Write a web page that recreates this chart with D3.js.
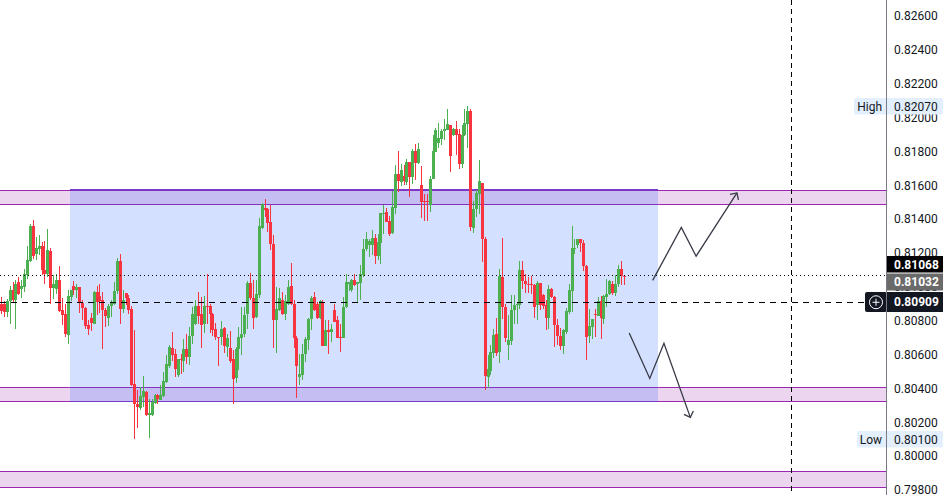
<!DOCTYPE html>
<html>
<head>
<meta charset="utf-8">
<script src="https://cdn.jsdelivr.net/npm/d3@7"></script>
<style>
  html, body { margin: 0; padding: 0; background: #fff; overflow: hidden; }
  text { font-family: Roboto, "Liberation Sans", sans-serif; }
</style>
</head>
<body>
<svg id="chart" width="948" height="495"></svg>
<script>
const opens = [
  .80897,.80897,.80852,.80917,.80980,.80921,.81027,.80990,.81000,.81069,.81153,.81358,.81193,.81226,.81242,.81102,.81074,.81210,.80994,.80990,.81039,.80866,.80838,.80718,.80940,.81007,.80980,.80998,.80903,.80874,.80775,.80814,.80783,.80968,.80944,.80921,.80866,.80814,.80885,.80901,.80974,.81151,.80868,.80962,.80937,.80868,.80424,.80310,.80286,.80350,.80377,.80241,.80245,.80314,.80359,.80334,.80354,.80436,.80535,.80637,.80602,.80478,.80574,.80564,.80631,.80586,.80708,.80783,.80885,.80838,.80779,.80885,.80885,.80838,.80749,.80704,.80702,.80757,.80645,.80637,.80572,.80460,.80631,
  .80698,.80720,.80838,.81021,.80937,.80820,.80950,.81348,.81463,.81459,.81382,.81256,.80803,.80866,.80921,.80842,.80897,.81004,.80897,.80700,.80468,.80478,.80602,.80684,.80808,.80942,.80897,.80814,.80913,.80649,.80744,.80732,.80862,.80803,.80702,.80696,.80879,.81019,.80980,.81039,.81017,.81021,.81069,.81222,.81246,.81246,.81291,.81181,.81260,.81433,.81445,.81388,
  .81316,.81466,.81665,.81620,.81653,.81620,.81736,.81649,.81801,.81730,.81600,.81506,.81506,.81486,.81636,.81797,.81852,.81872,.81919,.81925,.81959,.81896,.81931,.81902,.81724,.81896,.81963,.82037,.81348,.81458,.81549,.81616,.81285,.80467,.80501,.80609,.80719,.80615,.81060,.80883,
  .80659,.80680,.80862,.80891,.80895,.81098,.81035,.81019,.81015,.81013,.80891,.81021,.80954,.80891,.80816,.80986,.80942,.80777,.80710,.80649,.80734,.80852,.80974,.81226,.81246,.81281,.81261,.81126,.80708,.80763,.80838,.80826,.80919,.80812,.80938,.80958,.81015,.80966,.81015,.81104,.81066
];
const highs = [
  .80940,.80917,.80931,.81004,.81029,.81039,.81059,.81039,.81108,.81240,.81374,.81394,.81295,.81305,.81266,.81270,.81344,.81232,.81069,.81078,.81122,.80937,.80901,.80980,.80980,.81033,.81015,.81000,.80921,.80881,.80803,.80846,.80974,.81007,.81015,.80968,.80874,.80901,.80921,.81027,.81173,.81197,.80980,.80964,.80950,.80889,.80744,.80389,.80409,.80472,.80385,.80340,.80340,.80369,.80369,.80418,.80497,.80596,.80655,.80732,.80635,.80576,.80606,.80690,.80724,.80763,.80881,.80921,.80970,.80941,.80944,.81078,.80901,.80848,.80787,.80704,.80797,.80763,.80724,.80738,.80625,.80645,.80763,
  .80881,.80881,.81033,.81084,.81039,.81043,.81405,.81496,.81518,.81463,.81482,.81305,.81000,.80996,.80972,.80950,.81039,.81143,.80925,.80708,.80606,.80665,.80704,.80818,.80944,.80972,.80911,.80921,.80925,.80807,.80807,.80779,.80897,.80826,.80779,.80941,.81078,.81029,.81049,.81078,.81019,.81128,.81285,.81325,.81285,.81335,.81311,.81315,.81437,.81482,.81468,.81417,
  .81565,.81718,.81801,.81728,.81722,.81758,.81736,.81817,.81846,.81852,.81712,.81551,.81551,.81653,.81896,.81941,.81965,.81935,.81994,.82049,.81959,.81941,.81978,.81935,.81955,.82049,.82067,.82049,.81506,.81574,.81748,.81616,.81295,.80599,.80655,.80753,.80818,.81104,.81291,.80901,
  .80832,.80950,.80950,.80907,.81151,.81151,.81078,.81059,.81064,.81019,.81035,.81023,.80956,.80921,.81013,.80994,.80944,.80808,.80759,.80749,.80877,.81015,.81358,.81285,.81285,.81285,.81275,.81128,.80867,.80812,.80871,.80940,.80944,.80950,.81049,.81043,.81033,.81068,.81128,.81151,.81068
];
const lows = [
  .80842,.80822,.80822,.80779,.80911,.80751,.80950,.80935,.80970,.81049,.81147,.81167,.81157,.81187,.81069,.81019,.81059,.80897,.80931,.80960,.80852,.80773,.80704,.80661,.80917,.80950,.80937,.80846,.80807,.80749,.80714,.80738,.80779,.80832,.80846,.80631,.80763,.80767,.80822,.80891,.80960,.80779,.80846,.80891,.80842,.80415,.80101,.80166,.80271,.80290,.80239,.80105,.80235,.80306,.80310,.80330,.80350,.80432,.80523,.80560,.80468,.80468,.80483,.80497,.80547,.80537,.80661,.80773,.80783,.80639,.80728,.80779,.80728,.80708,.80688,.80533,.80655,.80610,.80586,.80550,.80306,.80432,.80507,
  .80596,.80704,.80749,.80925,.80749,.80818,.80933,.81344,.81413,.81325,.81216,.80637,.80610,.80858,.80832,.80803,.80891,.80891,.80637,.80342,.80418,.80448,.80556,.80625,.80744,.80856,.80812,.80810,.80649,.80649,.80602,.80675,.80791,.80696,.80613,.80696,.80877,.80974,.80968,.81004,.80909,.80921,.81059,.81212,.81177,.81187,.81134,.81157,.81134,.81315,.81384,.81299,
  .81312,.81429,.81561,.81596,.81600,.81600,.81531,.81610,.81630,.81728,.81407,.81389,.81389,.81443,.81636,.81797,.81821,.81837,.81866,.81925,.81679,.81892,.81777,.81695,.81703,.81892,.81821,.81328,.81318,.81413,.81433,.81147,.80389,.80402,.80477,.80580,.80591,.80550,.80812,.80674,
  .80566,.80659,.80783,.80779,.80867,.80986,.80966,.80966,.80960,.80816,.80802,.80862,.80867,.80743,.80749,.80934,.80645,.80659,.80625,.80602,.80724,.80842,.80852,.81193,.81230,.81206,.81092,.80566,.80668,.80694,.80704,.80826,.80690,.80783,.80881,.80950,.80950,.80944,.81000,.81010,.81010
];
const closes = [
  .80856,.80852,.80917,.80980,.80921,.81019,.80956,.81004,.81073,.81157,.81358,.81181,.81232,.81240,.81098,.81074,.81216,.80994,.81015,.81039,.80858,.80836,.80720,.80944,.80980,.80980,.81000,.80905,.80874,.80769,.80749,.80785,.80968,.80911,.80917,.80862,.80826,.80889,.80905,.80974,.81151,.80868,.80925,.80933,.80862,.80418,.80306,.80288,.80353,.80383,.80241,.80255,.80320,.80359,.80336,.80359,.80442,.80543,.80643,.80596,.80513,.80576,.80570,.80631,.80586,.80708,.80842,.80885,.80828,.80773,.80885,.80881,.80838,.80744,.80704,.80698,.80753,.80649,.80696,.80560,.80458,.80631,.80702,
  .80720,.80836,.81021,.80933,.80814,.80960,.81358,.81492,.81453,.81378,.81256,.80803,.80868,.80933,.80838,.80919,.81000,.80897,.80696,.80531,.80483,.80606,.80690,.80812,.80937,.80862,.80814,.80917,.80649,.80744,.80732,.80749,.80795,.80696,.80696,.80881,.81031,.81031,.81043,.81013,.81027,.81073,.81226,.81285,.81271,.81291,.81181,.81264,.81437,.81439,.81384,.81315,
  .81470,.81665,.81624,.81689,.81624,.81736,.81647,.81801,.81730,.81813,.81500,.81500,.81500,.81636,.81801,.81925,.81880,.81919,.81935,.81961,.81773,.81935,.81896,.81724,.81900,.81965,.82037,.81352,.81462,.81557,.81624,.81285,.80473,.80513,.80615,.80714,.80609,.81064,.80881,.80698,
  .80684,.80866,.80891,.80901,.81098,.81035,.81015,.81015,.81011,.80881,.81021,.80891,.80887,.80816,.80986,.80942,.80773,.80710,.80649,.80743,.80860,.80980,.81232,.81232,.81281,.81259,.81124,.80704,.80767,.80808,.80834,.80919,.80816,.80944,.80960,.81033,.80966,.81019,.81104,.81064,.81062
];

const tickValues = [.826,.824,.822,.82,.818,.816,.814,.812,.81,.808,.806,.804,.802,.8,.798];

// zones as [price top, price bottom]
const zones = [[.81569,.81487],[.80406,.80323],[.79911,.79817]];
const rangeBox = { startBar: 23.8, endBar: 226.9, top: .81575, bottom: .80323 };
const futureBar = 272.9;

// hand drawn arrows, [bar, price]
const upArrow = [[225,.81038],[234.9,.81351],[240,.81181],[254.1,.81555]];
const downArrow = [[216.9,.80728],[224,.80459],[228.9,.80667],[238,.80229]];

const dottedPrice = .81068;
const dashedPrice = .80909;

const width = 948, height = 495, axisX = 886;
const green = '#4caf50', red = '#f7343f';

const x = d3.scaleLinear().domain([0, opens.length - 1]).range([1, 623.7]);
const y = d3.scaleLinear().domain([.798, .826]).range([490, 16]);

const svg = d3.select('#chart');

svg.append('defs').append('marker')
  .attr('id', 'head')
  .attr('viewBox', '0 0 12 12')
  .attr('refX', 10).attr('refY', 6)
  .attr('markerWidth', 12).attr('markerHeight', 12)
  .attr('markerUnits', 'userSpaceOnUse')
  .attr('orient', 'auto')
  .append('path')
  .attr('d', 'M5,1 L10,6 L5,11')
  .attr('fill', 'none')
  .attr('stroke', '#363a45')
  .attr('stroke-width', 1.3);

// zones, run past the left edge so no side border shows
svg.append('g').selectAll('rect').data(zones).join('rect')
  .attr('x', -3)
  .attr('width', axisX + 3)
  .attr('y', d => y(d[0]))
  .attr('height', d => y(d[1]) - y(d[0]))
  .attr('fill', '#ecd5ef')
  .attr('stroke', '#9c27b0')
  .attr('stroke-width', 1)
  .attr('shape-rendering', 'crispEdges');

// range box
svg.append('rect')
  .attr('x', x(rangeBox.startBar))
  .attr('width', x(rangeBox.endBar) - x(rangeBox.startBar))
  .attr('y', y(rangeBox.top))
  .attr('height', y(rangeBox.bottom) - y(rangeBox.top))
  .attr('fill', 'rgba(41,98,255,0.2)')
  .attr('shape-rendering', 'crispEdges');
svg.append('g').selectAll('line').data([rangeBox.top, rangeBox.bottom]).join('line')
  .attr('x1', x(rangeBox.startBar))
  .attr('x2', x(rangeBox.endBar))
  .attr('y1', d => y(d))
  .attr('y2', d => y(d))
  .attr('stroke', '#7a3bd0')
  .attr('stroke-width', 1)
  .attr('shape-rendering', 'crispEdges');

// candles
const bars = svg.append('g').selectAll('g').data(opens).join('g')
  .attr('fill', (d, i) => closes[i] >= d ? green : red)
  .attr('shape-rendering', 'crispEdges');
bars.append('rect')
  .attr('x', (d, i) => Math.round(x(i)))
  .attr('width', 1)
  .attr('y', (d, i) => y(highs[i]))
  .attr('height', (d, i) => y(lows[i]) - y(highs[i]));
bars.append('rect')
  .attr('x', (d, i) => Math.round(x(i)) - 1)
  .attr('width', 3)
  .attr('y', (d, i) => Math.min(y(d), y(closes[i])))
  .attr('height', (d, i) => Math.max(1, Math.abs(y(d) - y(closes[i]))));

// price lines
svg.append('line')
  .attr('x1', 0).attr('x2', axisX)
  .attr('y1', y(dottedPrice)).attr('y2', y(dottedPrice))
  .attr('stroke', '#000').attr('stroke-dasharray', '1 3')
  .attr('shape-rendering', 'crispEdges');
svg.append('line')
  .attr('x1', 0).attr('x2', axisX)
  .attr('y1', y(dashedPrice)).attr('y2', y(dashedPrice))
  .attr('stroke', '#000').attr('stroke-dasharray', '6 5')
  .attr('shape-rendering', 'crispEdges');
svg.append('line')
  .attr('x1', x(futureBar)).attr('x2', x(futureBar))
  .attr('y1', 0).attr('y2', height)
  .attr('stroke', '#000').attr('stroke-dasharray', '5 4')
  .attr('shape-rendering', 'crispEdges');

// arrows
const arrowLine = d3.line().x(d => x(d[0])).y(d => y(d[1]));
svg.append('g').selectAll('path').data([upArrow, downArrow]).join('path')
  .attr('d', arrowLine)
  .attr('fill', 'none')
  .attr('stroke', '#363a45')
  .attr('stroke-width', 1.3)
  .attr('marker-end', 'url(#head)');

// price axis
const axis = d3.axisRight(y)
  .tickValues(tickValues)
  .tickSize(0)
  .tickPadding(8)
  .tickFormat(d3.format('.5f'));
const axisG = svg.append('g')
  .attr('transform', `translate(${axisX},0)`)
  .call(axis);
axisG.select('.domain').remove();
axisG.selectAll('text')
  .attr('font-size', 12)
  .attr('fill', '#131722');

// labels on the axis
function priceLabel(yTop, h, bg, text, color) {
  svg.append('rect')
    .attr('x', axisX).attr('y', yTop).attr('width', 57).attr('height', h)
    .attr('fill', bg);
  svg.append('text')
    .attr('x', axisX + 8).attr('y', yTop + h / 2).attr('dy', '0.36em')
    .attr('font-size', 12).attr('font-weight', 700)
    .attr('fill', color).text(text);
}
priceLabel(256, 16.5, '#000', d3.format('.5f')(.81068), '#fff');
priceLabel(273.5, 17, '#6a6a6a', d3.format('.5f')(.81032), '#fff');
priceLabel(292, 20, '#131722', d3.format('.5f')(.80909), '#fff');

// plus button
svg.append('rect')
  .attr('x', 865).attr('y', 292).attr('width', 22).attr('height', 20)
  .attr('rx', 2).attr('fill', '#131722');
svg.append('circle')
  .attr('cx', 876).attr('cy', y(dashedPrice))
  .attr('r', 6.5).attr('fill', 'none').attr('stroke', '#fff');
svg.append('path')
  .attr('d', `M872.5,${y(dashedPrice)}H879.5M876,${y(dashedPrice) - 3.5}V${y(dashedPrice) + 3.5}`)
  .attr('stroke', '#fff');

// high / low
function statLabel(name, value, boxX, yTop) {
  svg.append('rect')
    .attr('x', boxX).attr('y', yTop).attr('width', 943 - boxX).attr('height', 16.5)
    .attr('rx', 2).attr('fill', '#e3effd');
  svg.append('text')
    .attr('x', 882).attr('y', yTop + 8.25).attr('dy', '0.36em')
    .attr('text-anchor', 'end').attr('font-size', 12)
    .attr('fill', '#131722').text(name);
  svg.append('text')
    .attr('x', axisX + 8).attr('y', yTop + 8.25).attr('dy', '0.36em')
    .attr('font-size', 12).attr('fill', '#131722')
    .text(d3.format('.5f')(value));
}
statLabel('High', .8207, 854, 98);
statLabel('Low', .801, 857, 431);

// axis border last, it shows through the labels
svg.append('line')
  .attr('x1', axisX).attr('x2', axisX)
  .attr('y1', 0).attr('y2', height)
  .attr('stroke', '#787b86')
  .attr('shape-rendering', 'crispEdges');
</script>
</body>
</html>
